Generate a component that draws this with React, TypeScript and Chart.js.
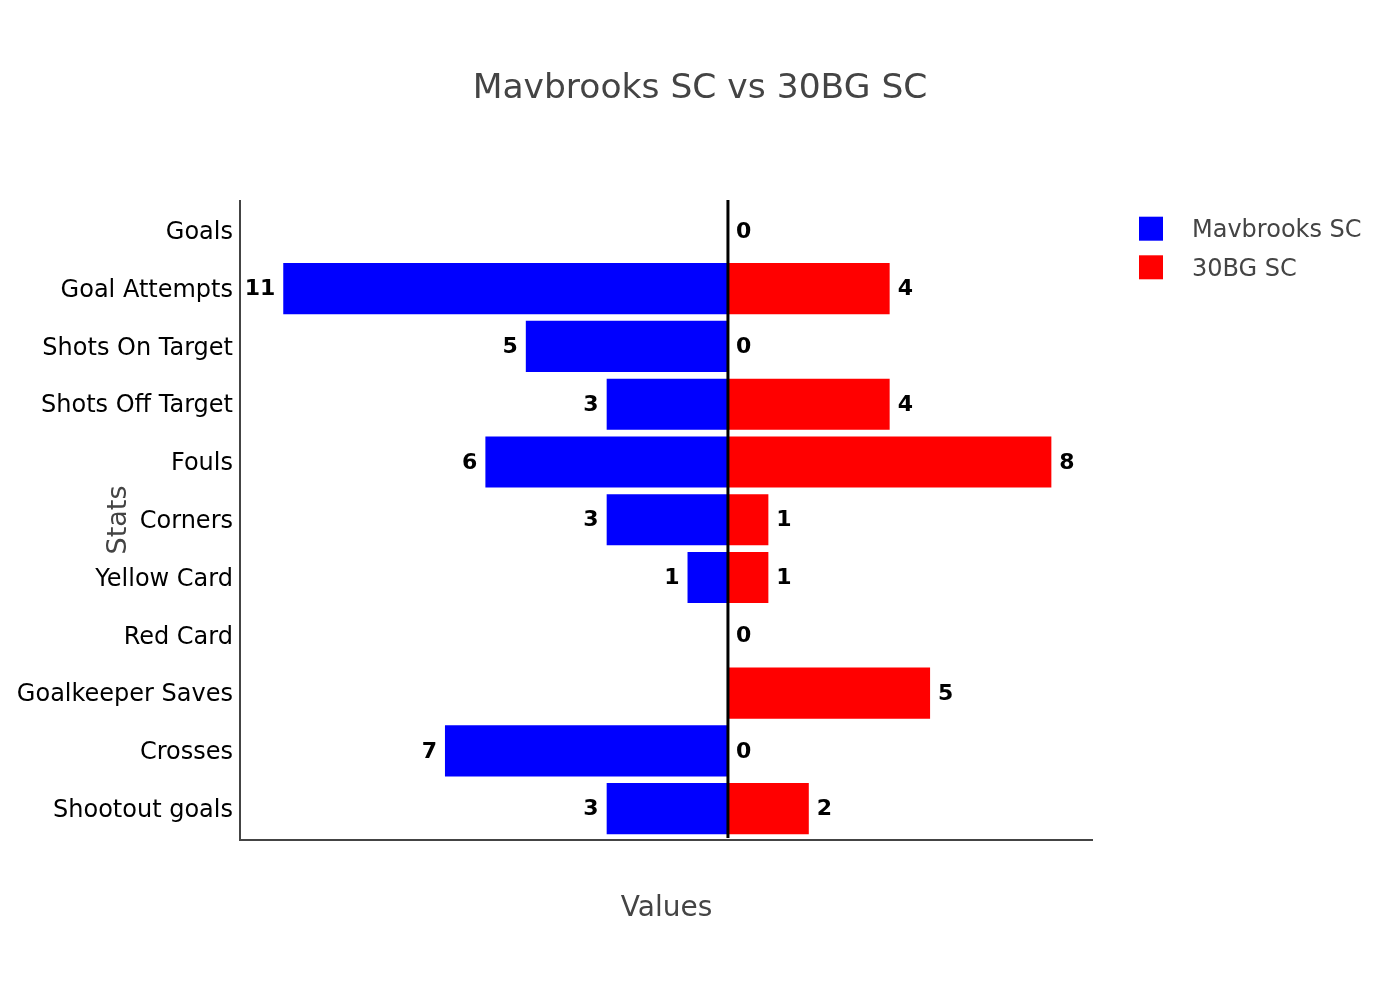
import React, { useEffect, useRef } from "react";
import { Chart, registerables } from "chart.js";

Chart.register(...registerables);

const categories = [
  "Goals",
  "Goal Attempts",
  "Shots On Target",
  "Shots Off Target",
  "Fouls",
  "Corners",
  "Yellow Card",
  "Red Card",
  "Goalkeeper Saves",
  "Crosses",
  "Shootout goals",
];
const mavbrooks = [0, 11, 5, 3, 6, 3, 1, 0, 0, 7, 3];
const bg30 = [0, 4, 0, 4, 8, 1, 1, 0, 5, 0, 2];
const seriesNames = ["Mavbrooks SC", "30BG SC"];
const seriesColors = ["#0000ff", "#ff0000"];
const titleText = "Mavbrooks SC vs 30BG SC";
const xTitle = "Values";
const yTitle = "Stats";

const FONT = "'DejaVu Sans', Verdana, sans-serif";

const overlayPlugin = {
  id: "overlay",
  afterDatasetsDraw(chart: any) {
    const { ctx, chartArea } = chart;
    const xs = chart.scales.x;
    const x0 = xs.getPixelForValue(0);
    ctx.save();
    // axis lines
    ctx.strokeStyle = "#444";
    ctx.lineWidth = 2;
    ctx.beginPath();
    ctx.moveTo(chartArea.left, 200);
    ctx.lineTo(chartArea.left, 841);
    ctx.moveTo(chartArea.left - 1, 840);
    ctx.lineTo(chartArea.right, 840);
    ctx.stroke();
    // zero line
    ctx.strokeStyle = "#000";
    ctx.lineWidth = 3;
    ctx.beginPath();
    ctx.moveTo(x0, 200);
    ctx.lineTo(x0, 838);
    ctx.stroke();
    // value labels
    ctx.font = `bold 22px ${FONT}`;
    ctx.fillStyle = "#000";
    ctx.textBaseline = "middle";
    const m0 = chart.getDatasetMeta(0);
    const m1 = chart.getDatasetMeta(1);
    mavbrooks.forEach((v, i) => {
      if (v === 0) return;
      const el = m0.data[i];
      ctx.textAlign = "right";
      ctx.fillText(String(v), el.x - 8, el.y + 1);
    });
    bg30.forEach((v, i) => {
      const el = m1.data[i];
      ctx.textAlign = "left";
      ctx.fillText(String(v), Math.max(el.x, x0) + 8, el.y + 1);
    });
    ctx.restore();
  },
  afterDraw(chart: any) {
    const { ctx, chartArea } = chart;
    ctx.save();
    ctx.fillStyle = "#444";
    ctx.textAlign = "center";
    ctx.textBaseline = "alphabetic";
    // title
    ctx.font = `34.5px ${FONT}`;
    ctx.fillText(titleText, 700, 98);
    // x title
    ctx.font = `28px ${FONT}`;
    ctx.fillText(xTitle, (chartArea.left + chartArea.right) / 2, 916);
    // y title
    ctx.save();
    ctx.textBaseline = "middle";
    ctx.translate(119, 520);
    ctx.rotate(-Math.PI / 2);
    ctx.font = `27px ${FONT}`;
    ctx.fillText(yTitle, 0, 0);
    ctx.restore();
    // legend
    ctx.font = `24px ${FONT}`;
    ctx.textAlign = "left";
    seriesNames.forEach((name, i) => {
      const yb = 237.3 + i * 38.6;
      ctx.fillStyle = seriesColors[i];
      ctx.fillRect(1139, 216.7 + i * 38.6, 24, 24);
      ctx.fillStyle = "#444";
      ctx.fillText(name, 1192, yb);
    });
    ctx.restore();
  },
};

export default function App() {
  const ref = useRef<HTMLCanvasElement>(null);
  useEffect(() => {
    if (!ref.current) return;
    const chart = new Chart(ref.current, {
      type: "bar",
      data: {
        labels: categories,
        datasets: [
          {
            label: seriesNames[0],
            data: mavbrooks.map((v) => -v),
            backgroundColor: seriesColors[0],
            barPercentage: 0.885,
            categoryPercentage: 1,
          },
          {
            label: seriesNames[1],
            data: bg30,
            backgroundColor: seriesColors[1],
            barPercentage: 0.885,
            categoryPercentage: 1,
          },
        ],
      },
      options: {
        indexAxis: "y",
        responsive: false,
        animation: false,
        layout: { padding: { top: 202, bottom: 162.5, left: 0, right: 307 } },
        plugins: {
          legend: { display: false },
          title: { display: false },
          tooltip: { enabled: false },
        },
        scales: {
          x: {
            stacked: true,
            min: -12.07,
            max: 9.03,
            grid: { display: false, drawTicks: false },
            ticks: { display: false },
            border: { display: false },
            afterFit(scale: any) {
              scale.height = 0;
            },
          },
          y: {
            stacked: true,
            grid: { display: false, drawTicks: false },
            border: { display: false },
            ticks: {
              color: "#000",
              padding: 7,
              labelOffset: 2,
              font: { family: FONT, size: 24 },
            },
            afterFit(scale: any) {
              scale.width = 240;
            },
          },
        },
      },
      plugins: [overlayPlugin],
    });
    return () => chart.destroy();
  }, []);
  return (
    <div style={{ position: "absolute", left: 0, top: 0, width: 1400, height: 1000, background: "#fff" }}>
      <canvas ref={ref} width={1400} height={1000} />
    </div>
  );
}
